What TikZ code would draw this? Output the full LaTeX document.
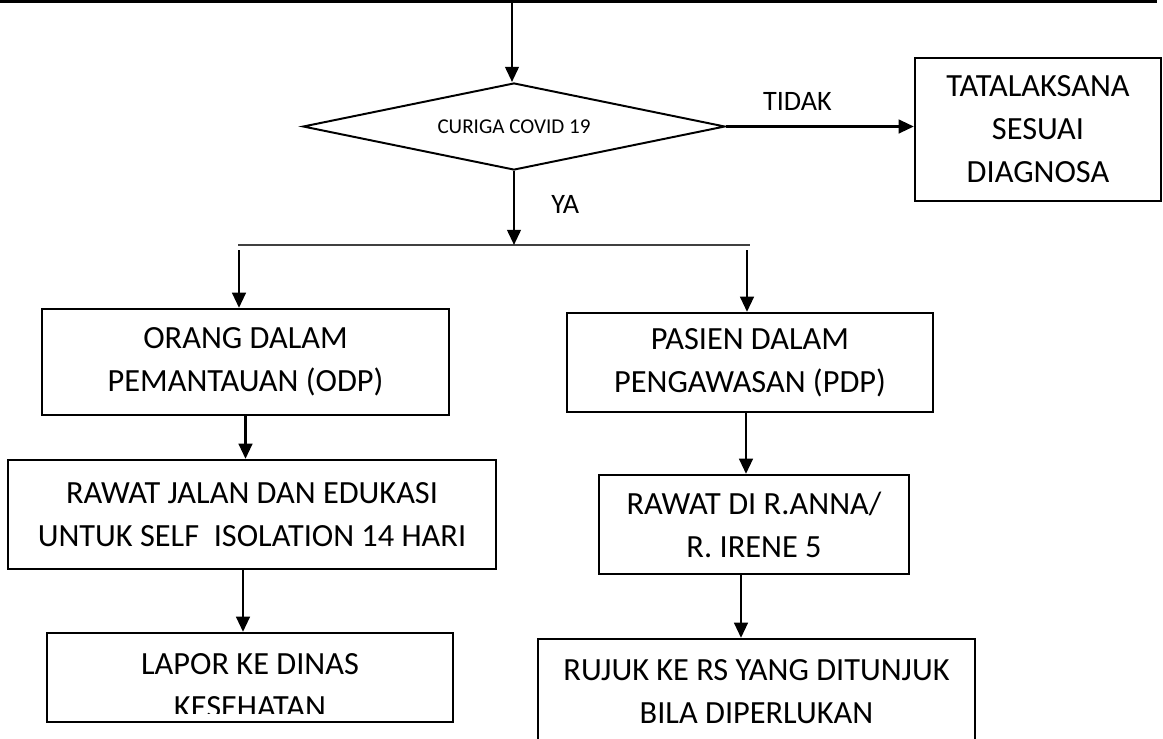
\documentclass[tikz,border=0pt]{standalone}
\usepackage{fontspec}
\setmainfont{Carlito}
\usetikzlibrary{shapes.geometric,arrows.meta,positioning,calc}

\tikzset{
  flowbox/.style={draw, line width=1.6pt, align=center, inner sep=0pt, font=\fontsize{23}{30.6}\selectfont},
  decision/.style={draw, diamond, aspect=4.85, line width=1.4pt, inner sep=0pt, font=\fontsize{15}{18}\selectfont},
  flowarrow/.style={-{Triangle[length=0.38cm, width=0.34cm]}, line width=1.8pt},
  flowlabel/.style={inner sep=0pt, font=\fontsize{20}{24}\selectfont}
}

\begin{document}
\begin{tikzpicture}[x=0.025cm, y=-0.025cm]
\useasboundingbox (0,0) rectangle (1163,738);

% Top rule and entry
\draw[line width=2pt] (0,1.5) -- (1157,1.5);
\coordinate (start) at (512,3);

% Decision
\node[decision, minimum width=10.55cm, minimum height=2.175cm] (curiga) at (514,126.5) {CURIGA COVID 19};
\draw[flowarrow] (start) -- (start |- curiga.north);

% TIDAK branch
\node[flowbox, minimum width=6.15cm, minimum height=3.575cm] (tata) at (1038,129.5) {TATALAKSANA\\SESUAI\\DIAGNOSA};
\draw[flowarrow] (curiga.east) -- (curiga.east -| tata.west) node[flowlabel, pos=0.38, above=0.36cm] (tidak) {TIDAK};

% YA branch
\coordinate (splitL) at (238,245);
\coordinate (splitR) at (750,245);
\draw[line width=0.8pt, black!75] (splitL) -- (splitR);
\draw[flowarrow] (curiga.south) -- (curiga.south |- splitL) node[flowlabel, pos=0.45, right=0.9cm] (ya) {YA};

\coordinate (downL) at (239,250);
\coordinate (downR) at (747,250);

% Left column
\node[flowbox, minimum width=10.175cm, minimum height=2.65cm] (odp) at (245.5,362) {ORANG DALAM\\PEMANTAUAN (ODP)};
\node[flowbox, minimum width=12.2cm, minimum height=2.725cm] (rawatjalan) at (252,514.5) {RAWAT JALAN DAN EDUKASI\\UNTUK SELF\ \ ISOLATION 14 HARI};
\node[flowbox, minimum width=10.15cm, minimum height=2.225cm] (lapor) at (250,677.5) {};
\begin{scope}
\clip (47,633) rectangle (453,713);
\node[flowbox, draw=none] (laportext) at (250,686) {LAPOR KE DINAS\\KESEHATAN};
\end{scope}

\draw[flowarrow] (downL) -- (downL |- odp.north);
\draw[flowarrow] (odp.south) -- (odp.south |- rawatjalan.north);
\draw[flowarrow] ([xshift=-0.225cm]rawatjalan.south) -- ([xshift=-0.225cm]rawatjalan.south |- lapor.north);

% Right column
\node[flowbox, minimum width=9.15cm, minimum height=2.475cm] (pdp) at (750,362.5) {PASIEN DALAM\\PENGAWASAN (PDP)};
\node[flowbox, minimum width=7.75cm, minimum height=2.475cm] (rawatdi) at (754,524.5) {RAWAT DI R.ANNA/\\R. IRENE 5};
\node[flowbox, minimum width=10.925cm, minimum height=2.65cm] (rujuk) at (756.5,692) {RUJUK KE RS YANG DITUNJUK\\BILA DIPERLUKAN};

\draw[flowarrow] (downR) -- (downR |- pdp.north);
\draw[flowarrow] ([xshift=-0.1cm]pdp.south) -- ([xshift=-0.1cm]pdp.south |- rawatdi.north);
\draw[flowarrow] ([xshift=-0.325cm]rawatdi.south) -- ([xshift=-0.325cm]rawatdi.south |- rujuk.north);

\end{tikzpicture}
\end{document}
